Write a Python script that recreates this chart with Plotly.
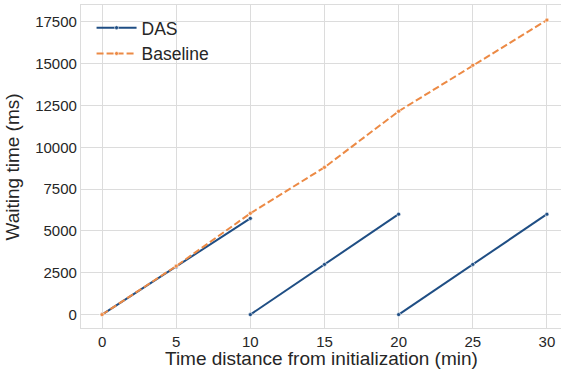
import plotly.graph_objects as go

# Data
das_x = [0, 5, 10, None, 10, 15, 20, None, 20, 25, 30]
das_y = [0, 2850, 5750, None, 0, 3000, 6000, None, 0, 3000, 6000]
base_x = [0, 5, 10, 15, 20, 25, 30]
base_y = [0, 2900, 6050, 8800, 12150, 14900, 17600]
x_ticks = [0, 5, 10, 15, 20, 25, 30]
y_ticks = [0, 2500, 5000, 7500, 10000, 12500, 15000, 17500]

BLUE = "#1f4e84"
ORANGE = "#ec8a45"
GRID = "#dcdcdc"
TEXT = "#262626"
FONT = "Liberation Sans, Arial, sans-serif"

fig = go.Figure()
fig.add_trace(go.Scatter(
    x=das_x, y=das_y, name="DAS", mode="lines+markers",
    line=dict(color=BLUE, width=2),
    marker=dict(size=4, color=BLUE, line=dict(color="white", width=0.6)),
    connectgaps=False,
))
fig.add_trace(go.Scatter(
    x=base_x, y=base_y, name="Baseline", mode="lines+markers",
    line=dict(color=ORANGE, width=2, dash="7px,3px"),
    marker=dict(size=4, color=ORANGE, line=dict(color="white", width=0.6)),
))

fig.update_layout(
    width=561, height=370,
    margin=dict(l=81, r=0, t=5, b=42),
    paper_bgcolor="white", plot_bgcolor="white",
    font=dict(family=FONT, color=TEXT),
    showlegend=True,
    legend=dict(x=0.022, y=0.985, xanchor="left", yanchor="top",
                bgcolor="rgba(255,255,255,0)", font=dict(size=17.5, color=TEXT),
                itemwidth=40, tracegroupgap=4),
    annotations=[
        dict(text="Time distance from initialization (min)", xref="paper", yref="paper",
             x=0.5, y=-0.094, xanchor="center", yanchor="middle", showarrow=False,
             font=dict(size=19, color=TEXT)),
        dict(text="Waiting time (ms)", xref="paper", yref="paper",
             x=-0.1417, y=0.5, xanchor="center", yanchor="middle", showarrow=False,
             textangle=-90, font=dict(size=19, color=TEXT)),
    ],
)
fig.update_xaxes(
    range=[-1.42, 30.95], tickvals=x_ticks, ticktext=[str(v) for v in x_ticks],
    showgrid=True, gridcolor=GRID, gridwidth=1.2, zeroline=False,
    showline=True, linecolor=GRID, linewidth=1.2, mirror=True,
    ticks="", ticklabelstandoff=0, tickfont=dict(size=15, color=TEXT),
    automargin=False,
)
fig.update_yaxes(
    range=[-800, 18500], tickvals=y_ticks, ticktext=[str(v) for v in y_ticks],
    showgrid=True, gridcolor=GRID, gridwidth=1.2, zeroline=False,
    showline=True, linecolor=GRID, linewidth=1.2, mirror=False,
    ticks="", ticklabelstandoff=0, tickfont=dict(size=15, color=TEXT),
    automargin=False,
)

fig.write_html("out.html", config={"displayModeBar": False},
               post_script="document.body.style.margin='0';")
